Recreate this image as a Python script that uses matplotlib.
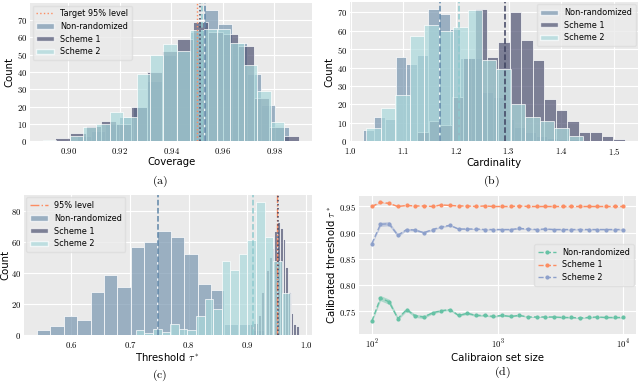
import numpy as np
import matplotlib
matplotlib.use("Agg")
import matplotlib.pyplot as plt
from matplotlib.patches import Patch
from matplotlib.lines import Line2D
from matplotlib.ticker import FuncFormatter, NullLocator

plt.rcParams['mathtext.fontset'] = 'cm'
plt.rcParams['font.family'] = ['DejaVu Sans']

# ---------------- data ----------------
SERIES = ["Non-randomized", "Scheme 1", "Scheme 2"]

# (a) Coverage histograms: (lo, hi) bin range and counts
A_NONRAND_RANGE = (0.90332, 0.98570)
A_NONRAND = [3, 6, 10, 14, 20, 35, 50, 52, 63, 76, 68, 57, 39, 21, 8]
A_SCHEME1_RANGE = (0.8949, 0.9898)
A_SCHEME1 = [2, 5, 9, 12, 10, 20, 40, 52, 59, 69, 63, 62, 55, 25, 8, 3]
A_SCHEME2_RANGE = (0.89017, 0.98378)
A_SCHEME2 = [1, 0, 3, 8, 10, 17, 14, 39, 50, 56, 52, 64, 65, 65, 57, 44, 29, 11]
A_MEANS = [0.9530, 0.9513, 0.9518]
A_TARGET = 0.95

# (b) Cardinality histograms
B_NONRAND_RANGE = (1.024, 1.434)
B_NONRAND = [6, 13, 12, 46, 42, 47, 72, 69, 61, 45, 45, 27, 24, 12, 8, 5, 3, 2, 1, 1]
B_SCHEME1_RANGE = (1.1268, 1.521)
B_SCHEME1 = [5, 11, 9, 24, 45, 72, 46, 54, 70, 55, 44, 23, 17, 11, 5, 5, 3, 1]
B_SCHEME2_RANGE = (1.0303, 1.4416)
B_SCHEME2 = [7, 18, 25, 57, 63, 60, 62, 71, 44, 39, 20, 13, 11, 7, 3]
B_MEANS = [1.1695, 1.293, 1.206]

# (c) Threshold histograms
C_NONRAND_RANGE = (0.5414, 0.9290)
C_NONRAND = [3, 6, 12, 10, 28, 39, 31, 57, 60, 67, 63, 52, 33, 29, 7, 7, 3]
C_SCHEME1_RANGE = (0.9048, 0.9871)
C_SCHEME1 = [7, 8, 8, 13, 28, 36, 42, 50, 56, 67, 73, 69, 62, 44, 28, 14, 7, 6]
C_SCHEME2_RANGE = (0.7096, 0.9732)
C_SCHEME2 = [3, 1, 4, 2, 7, 4, 3, 12, 23, 17, 48, 42, 52, 61, 86, 63, 48, 27]
C_MEANS = [0.748, 0.9516, 0.910]
C_LEVEL = 0.95

# (d) Calibrated threshold vs calibration set size
D_SIZES = [100, 117, 137, 161, 189, 221, 259, 304, 356, 418, 489, 574, 672, 788, 924,
           1082, 1269, 1487, 1743, 2043, 2395, 2807, 3290, 3856, 4520, 5298, 6210,
           7279, 8532, 10000]
D_NONRAND = [0.731, 0.775, 0.768, 0.736, 0.753, 0.741, 0.739, 0.747, 0.751, 0.753,
             0.742, 0.746, 0.742, 0.742, 0.740, 0.742, 0.740, 0.742, 0.739, 0.739,
             0.739, 0.739, 0.738, 0.738, 0.737, 0.738, 0.739, 0.738, 0.738, 0.738]
D_NONRAND_ERR = [0.002, 0.005, 0.005, 0.003, 0.003, 0.003, 0.003, 0.002, 0.002, 0.002,
                 0.002, 0.002, 0.002, 0.0015, 0.0015, 0.0015, 0.001, 0.001, 0.001, 0.001,
                 0.001, 0.001, 0.001, 0.001, 0.001, 0.001, 0.001, 0.001, 0.001, 0.001]
D_SCHEME1 = [0.950, 0.958, 0.956, 0.950, 0.952, 0.951, 0.951, 0.950, 0.953, 0.952,
             0.951, 0.951, 0.950, 0.951, 0.950, 0.950, 0.950, 0.951, 0.950, 0.950,
             0.950, 0.950, 0.950, 0.950, 0.950, 0.950, 0.950, 0.950, 0.950, 0.950]
D_SCHEME1_ERR = [0.0008] * 3 + [0.0005] * 27
D_SCHEME2 = [0.879, 0.916, 0.917, 0.895, 0.906, 0.905, 0.900, 0.906, 0.911, 0.914,
             0.907, 0.907, 0.907, 0.906, 0.906, 0.906, 0.906, 0.908, 0.907, 0.906,
             0.907, 0.906, 0.906, 0.906, 0.906, 0.906, 0.906, 0.906, 0.906, 0.906]
D_SCHEME2_ERR = [0.0015, 0.004, 0.004, 0.003, 0.002, 0.002, 0.0015, 0.0015, 0.0015, 0.0015,
                 0.001, 0.001, 0.001, 0.001, 0.001, 0.001, 0.001, 0.001, 0.001, 0.001,
                 0.001, 0.001, 0.001, 0.001, 0.001, 0.001, 0.001, 0.001, 0.001, 0.001]

# ---------------- style ----------------
BG = "#EAEAEA"
HIST_COLORS = ["#7896B0", "#4E5272", "#ABD9DC"]
MEAN_STYLES = ["--", ":", "--"]
MEAN_COLORS = ["#5F86A8", "#3E4260", "#8FCACE"]
ORANGE = "#fc8d62"
LINE_COLORS = ["#66c2a5", "#fc8d62", "#8da0cb"]
LABEL_FS = 7.3
TICK_FS = 6.3
LEG_FS = 5.9

fig = plt.figure(figsize=(6.4, 3.82), dpi=100)


def style_ax(ax):
    ax.set_facecolor(BG)
    for s in ax.spines.values():
        s.set_visible(False)
    ax.grid(True, color="white", linewidth=0.8)
    ax.set_axisbelow(True)
    ax.tick_params(length=0, labelsize=TICK_FS)
    ax.tick_params(axis="x", pad=3.3)
    ax.tick_params(axis="y", pad=2)


def mfmt(fmt):
    return FuncFormatter(lambda v, p: "$" + (fmt % v) + "$")


def hist(ax, rng, counts, color):
    n = len(counts)
    edges = np.linspace(rng[0], rng[1], n + 1)
    ax.bar(edges[:-1], counts, width=np.diff(edges), align="edge",
           color=color, alpha=0.7, edgecolor="white", linewidth=0.7)


def legend_box(ax, handles, labels, loc, **kw):
    leg = ax.legend(handles, labels, loc=loc, fontsize=LEG_FS, frameon=True,
                    fancybox=True, framealpha=0.8, facecolor=BG, edgecolor="#dddddd",
                    handlelength=2.2, handleheight=0.6, borderpad=0.45,
                    labelspacing=0.45, handletextpad=0.7, borderaxespad=0.3, **kw)
    return leg


patches = [Patch(facecolor=c, alpha=0.7, edgecolor="white") for c in HIST_COLORS]

# ---------- (a) ----------
axA = fig.add_axes([0.047, 0.630, 0.441, 0.362])
style_ax(axA)
for rng, cnt, col in zip([A_NONRAND_RANGE, A_SCHEME1_RANGE, A_SCHEME2_RANGE],
                         [A_NONRAND, A_SCHEME1, A_SCHEME2], HIST_COLORS):
    hist(axA, rng, cnt, col)
axA.axvline(A_TARGET, color=ORANGE, linestyle=":", linewidth=1.0)
for m, ls, c in zip(A_MEANS, MEAN_STYLES, MEAN_COLORS):
    axA.axvline(m, color=c, linestyle=ls, linewidth=1.1)
axA.set_xticks([0.90, 0.92, 0.94, 0.96, 0.98])
axA.xaxis.set_major_formatter(mfmt("%.2f"))
axA.set_yticks(range(0, 80, 10))
axA.yaxis.set_major_formatter(mfmt("%d"))
axA.set_xlabel("Coverage", fontsize=LABEL_FS, labelpad=1.0)
axA.set_ylabel("Count", fontsize=LABEL_FS, labelpad=1.5)
legend_box(axA, [Line2D([], [], color=ORANGE, linestyle=":", linewidth=1.0)] + patches,
           ["Target 95% level"] + SERIES, "upper left")

# ---------- (b) ----------
axB = fig.add_axes([0.547, 0.630, 0.450, 0.365])
style_ax(axB)
for rng, cnt, col in zip([B_NONRAND_RANGE, B_SCHEME1_RANGE, B_SCHEME2_RANGE],
                         [B_NONRAND, B_SCHEME1, B_SCHEME2], HIST_COLORS):
    hist(axB, rng, cnt, col)
for m, c in zip(B_MEANS, MEAN_COLORS):
    axB.axvline(m, color=c, linestyle="--", linewidth=1.1)
axB.set_xticks([1.0, 1.1, 1.2, 1.3, 1.4, 1.5])
axB.xaxis.set_major_formatter(mfmt("%.1f"))
axB.set_yticks(range(0, 80, 10))
axB.yaxis.set_major_formatter(mfmt("%d"))
axB.set_xlabel("Cardinality", fontsize=LABEL_FS, labelpad=1.0)
axB.set_ylabel("Count", fontsize=LABEL_FS, labelpad=1.5)
legend_box(axB, patches, SERIES, "upper right")

# ---------- (c) ----------
axC = fig.add_axes([0.0375, 0.123, 0.4495, 0.3665])
style_ax(axC)
for rng, cnt, col in zip([C_NONRAND_RANGE, C_SCHEME1_RANGE, C_SCHEME2_RANGE],
                         [C_NONRAND, C_SCHEME1, C_SCHEME2], HIST_COLORS):
    hist(axC, rng, cnt, col)
axC.axvline(C_LEVEL, color=ORANGE, linestyle="-.", linewidth=1.0)
for m, ls, c in zip(C_MEANS, MEAN_STYLES, MEAN_COLORS):
    axC.axvline(m, color=c, linestyle=ls, linewidth=1.1)
axC.set_xticks([0.6, 0.7, 0.8, 0.9, 1.0])
axC.xaxis.set_major_formatter(mfmt("%.1f"))
axC.set_yticks(range(0, 90, 20))
axC.yaxis.set_major_formatter(mfmt("%d"))
axC.set_xlabel(r"Threshold $\tau^*$", fontsize=LABEL_FS, labelpad=1.0)
axC.set_ylabel("Count", fontsize=LABEL_FS, labelpad=0.5)
legend_box(axC, [Line2D([], [], color=ORANGE, linestyle="-.", linewidth=1.0)] + patches,
           ["95% level"] + SERIES, "upper left")

# ---------- (d) ----------
axD = fig.add_axes([0.5614, 0.1264, 0.4323, 0.3605])
style_ax(axD)
for y, e, c, lab in zip([D_NONRAND, D_SCHEME1, D_SCHEME2],
                        [D_NONRAND_ERR, D_SCHEME1_ERR, D_SCHEME2_ERR],
                        LINE_COLORS, SERIES):
    y = np.array(y); e = np.array(e)
    axD.fill_between(D_SIZES, y - e, y + e, color=c, alpha=0.45, linewidth=0)
    axD.plot(D_SIZES, y, linestyle="--", marker="o", markersize=2.0, color=c,
             linewidth=1.0, label=lab)
axD.set_xscale("log")
axD.set_xticks([100, 1000, 10000])
axD.xaxis.set_minor_locator(NullLocator())
axD.xaxis.set_major_formatter(FuncFormatter(lambda v, p: r"$10^{%d}$" % round(np.log10(v))))
axD.set_yticks([0.75, 0.80, 0.85, 0.90, 0.95])
axD.yaxis.set_major_formatter(mfmt("%.2f"))
axD.set_ylim(0.707, 0.970)
axD.set_xlabel("Calibraion set size", fontsize=LABEL_FS, labelpad=1.0)
axD.set_ylabel(r"Calibrated threshold $\tau^*$", fontsize=LABEL_FS, labelpad=1.5)
h, l = axD.get_legend_handles_labels()
legend_box(axD, h, l, "center right", bbox_to_anchor=(1.0, 0.50))

# captions
for x, y, t in [(0.25, 0.524, "(a)"), (0.768, 0.524, "(b)"),
                (0.25, 0.018, "(c)"), (0.785, 0.024, "(d)")]:
    fig.text(x, y, r"$\mathrm{%s}$" % t, ha="center", va="center", fontsize=8.5)

fig.savefig("out.png", dpi=100)
